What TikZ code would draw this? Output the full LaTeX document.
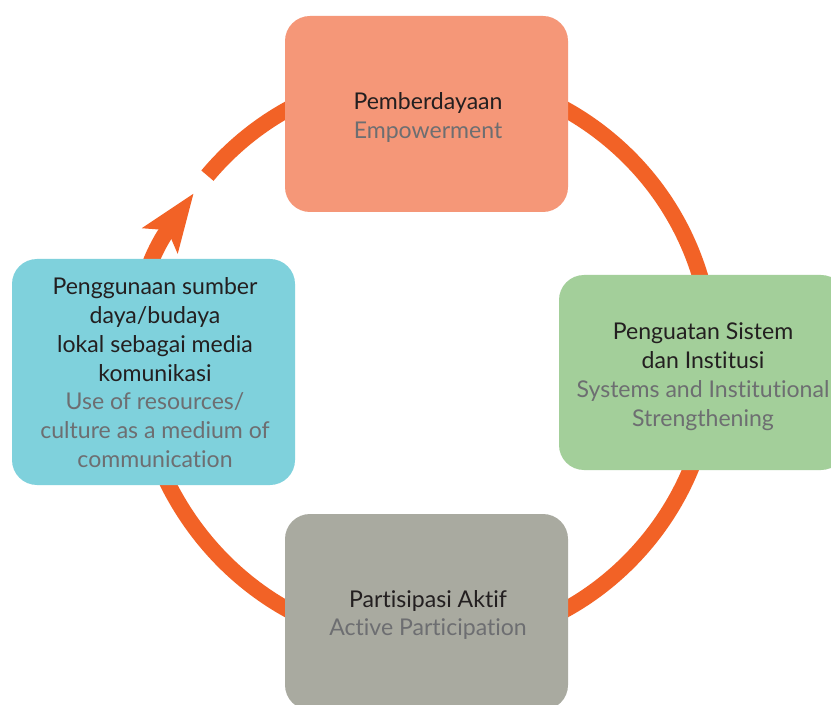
\documentclass[tikz,border=0pt]{standalone}
\usepackage{fontspec}
\setmainfont{Lato}[Ligatures={NoCommon}]
\usetikzlibrary{arrows.meta}
\definecolor{ringc}{HTML}{F26226}
\definecolor{empc}{HTML}{F59778}
\definecolor{sysc}{HTML}{A3CF9A}
\definecolor{parc}{HTML}{A9AAA0}
\definecolor{usec}{HTML}{7FD1DC}
\definecolor{dkc}{HTML}{231F20}
\definecolor{grc}{HTML}{6D6E71}
\def\u{0.75pt}
\tikzset{
  box/.style={rectangle, rounded corners=18.75pt, draw=none, inner sep=0pt},
  ln/.style={anchor=base, inner sep=0pt, font=\fontsize{17.3}{20}\selectfont},
  dk/.style={ln, text=dkc},
  gr/.style={ln, text=grc},
  ring/.style={line width=12pt, draw=ringc, -{Stealth[length=57*0.75pt, width=42*0.75pt, inset=12*0.75pt]}}
}
\begin{document}
\begin{tikzpicture}[x=0.75pt, y=0.75pt]
\clip (0,0) rectangle (831,704);
\fill[white] (0,0) rectangle (831,704);
\coordinate (C) at (426.5,344.5);
\draw[ring] ([shift={(140:286)}]C) arc[start angle=140, end angle=-215.5, radius=286];
% boxes
\node[box, fill=empc, minimum width=283*\u, minimum height=196*\u] (emp) at (426.5,590) {};
\node[box, fill=sysc, minimum width=287*\u, minimum height=195*\u] (sys) at (702.5,331.5) {};
\node[box, fill=parc, minimum width=283*\u, minimum height=196*\u] (par) at (426.5,92) {};
\node[box, fill=usec, minimum width=283*\u, minimum height=226*\u] (use) at (153.5,332) {};
% texts
\node[dk] (empA) at (428,594) {Pemberdayaan};
\node[gr] (empB) at (428,565) {Empowerment};
\node[dk] (sysA) at (703,364) {Penguatan Sistem};
\node[dk] (sysB) at (703,335) {dan Institusi};
\node[gr] (sysC) at (703,307) {Systems and Institutional};
\node[gr] (sysD) at (703,278) {Strengthening};
\node[dk] (parA) at (428,97) {Partisipasi Aktif};
\node[gr] (parB) at (428,69) {Active Participation};
\node[dk] (useA) at (155,409) {Penggunaan sumber};
\node[dk] (useB) at (155,380.3) {daya/budaya};
\node[dk] (useC) at (155,351.7) {lokal sebagai media};
\node[dk] (useD) at (155,323) {komunikasi};
\node[gr] (useE) at (155,294.3) {Use of resources/};
\node[gr] (useF) at (155,265.7) {culture as a medium of};
\node[gr] (useG) at (155,237) {communication};
\end{tikzpicture}
\end{document}
